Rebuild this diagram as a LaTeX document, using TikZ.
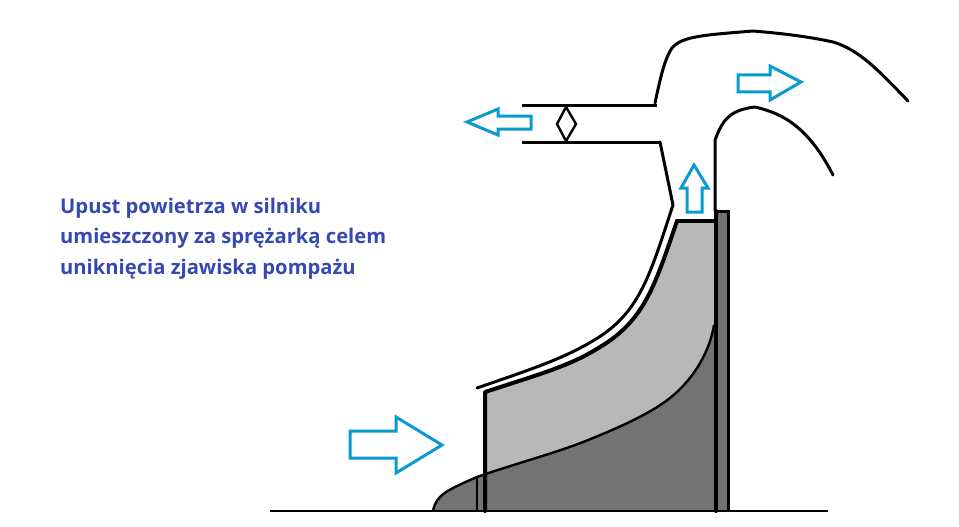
\documentclass[tikz,border=0pt]{standalone}
\usepackage{fontspec}
\setmainfont{Open Sans}
\definecolor{lightg}{HTML}{B8B8B8}
\definecolor{darkg}{HTML}{737373}
\definecolor{flow}{HTML}{0A9AD2}
\definecolor{caption}{HTML}{3648B2}
\tikzset{
  duct/.style={line width=3pt,black,line join=round,line cap=round},
  wall/.style={line width=4pt,black,line join=round,line cap=round},
  flowarrow/.style={draw=flow,line width=3pt,fill=white,line join=miter},
  captionline/.style={anchor=base west,inner sep=0pt,text=caption,font=\fontsize{20.2}{24}\selectfont\bfseries}
}
\def\innershroud{(677,221) .. controls (655,285) and (645,320) .. (600,347) .. controls (570,366) and (540,374) .. (485,392)}
\def\hubcurve{(433,511) .. controls (436,495) and (447,490) .. (477,477) .. controls (520,462) and (560,452) .. (593,438) .. controls (630,423) and (655,410) .. (670,398) .. controls (695,378) and (710,350) .. (714,325)}
\begin{document}
\begin{tikzpicture}[x=1pt,y=-1pt]
\useasboundingbox (0,0) rectangle (959,527);
% fills
\fill[lightg] (485,392) -- (485,511) -- (716,511) -- (716,221) -- (677,221) .. controls (655,285) and (645,320) .. (600,347) .. controls (570,366) and (540,374) .. (485,392) -- cycle;
\fill[darkg] \hubcurve -- (716,511) -- cycle;
\fill[darkg] (717,211) rectangle (728,511);
% curve edges
\draw[line width=2.4pt] \hubcurve;
% shroud and inner wall
\draw[wall] \innershroud -- (485,511);
\draw[wall] (677,221) -- (715,221);
\draw[wall] (716,211) -- (716,511);
\draw[line width=3pt] (716,211) -- (728,211) -- (728,511);
\draw[line width=2pt] (477,477) -- (477,511);
\draw[duct] (660,142) -- (673,205) .. controls (650,275) and (640,312) .. (596,339) .. controls (565,358) and (535,368) .. (477,388);
% ducts
\draw[duct,line cap=butt] (522,105) -- (657,105);
\draw[duct,line cap=butt] (522,142) -- (660,142);
\draw[duct] (655,103) .. controls (660,80) and (664,60) .. (672,48) .. controls (682,36) and (705,35) .. (753,31) .. controls (790,34) and (815,38) .. (833,42) .. controls (860,50) and (880,72) .. (908,101);
\draw[duct] (715,211) -- (715,140) .. controls (722,122) and (728,110) .. (755,107) .. controls (775,112) and (805,120) .. (833,175);
% valve
\draw[line width=2.4pt,line join=miter] (566,107) -- (576,124) -- (566,141) -- (557,124) -- cycle;
% flow arrows
\draw[flowarrow] (467,122) -- (498,109) -- (498,116) -- (531,116) -- (531,129) -- (498,129) -- (498,135) -- cycle;
\draw[flowarrow] (738,75) -- (770,75) -- (770,66) -- (801,82) -- (770,100) -- (770,92) -- (738,92) -- cycle;
\draw[flowarrow] (694,165) -- (681,188) -- (687,188) -- (687,212) -- (702,212) -- (702,188) -- (708,188) -- cycle;
\draw[flowarrow] (350,431) -- (396,431) -- (396,417) -- (442,445) -- (396,473) -- (396,458) -- (350,458) -- cycle;
% axis
\draw[line width=2.4pt] (270,511) -- (828,511);
% caption
\node[captionline] (l1) at (60,213) {Upust powietrza w silniku};
\node[captionline] (l2) at (60,243.5) {umieszczony za sprężarką celem};
\node[captionline] (l3) at (60,274) {uniknięcia zjawiska pompażu};
\end{tikzpicture}
\end{document}
